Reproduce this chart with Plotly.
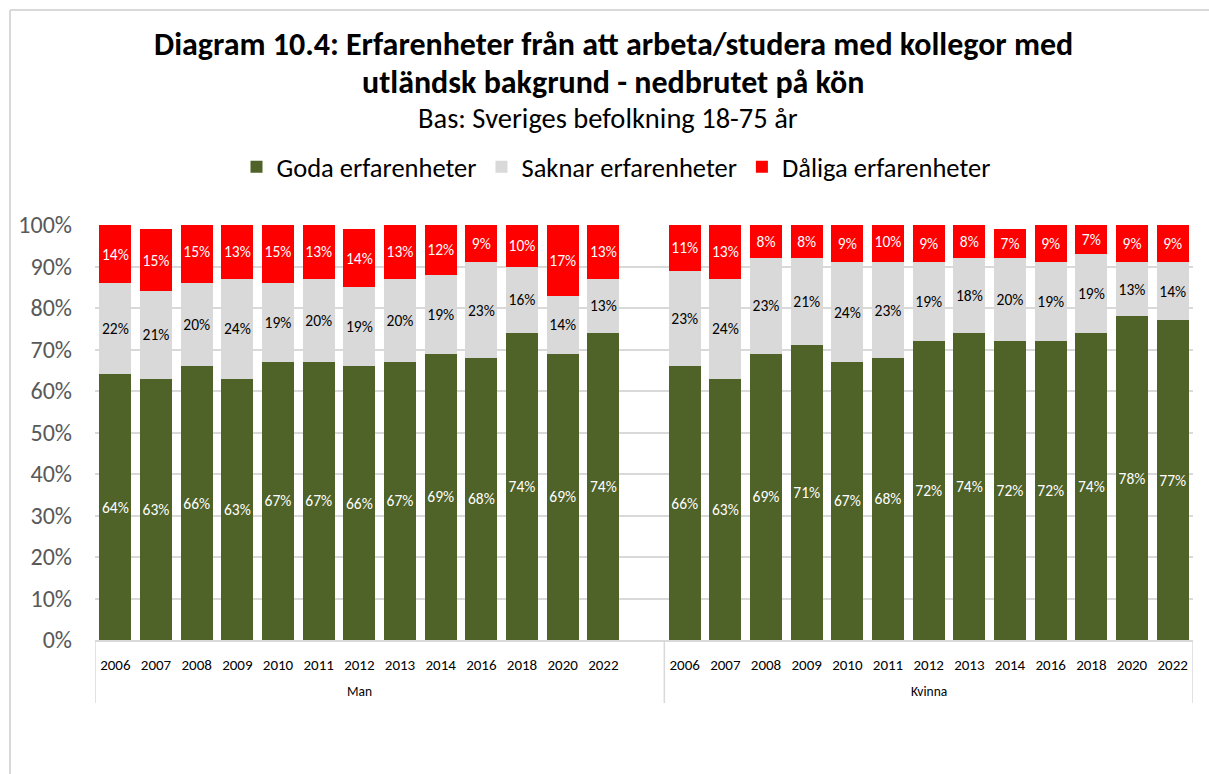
import plotly.graph_objects as go

# Survey years per group
years = ["2006", "2007", "2008", "2009", "2010", "2011", "2012",
         "2013", "2014", "2016", "2018", "2020", "2022"]
groups = ["Man", "Kvinna"]

# Shares in percent, per group
man_goda = [64, 63, 66, 63, 67, 67, 66, 67, 69, 68, 74, 69, 74]
man_saknar = [22, 21, 20, 24, 19, 20, 19, 20, 19, 23, 16, 14, 13]
man_daliga = [14, 15, 15, 13, 15, 13, 14, 13, 12, 9, 10, 17, 13]

kvinna_goda = [66, 63, 69, 71, 67, 68, 72, 74, 72, 72, 74, 78, 77]
kvinna_saknar = [23, 24, 23, 21, 24, 23, 19, 18, 20, 19, 19, 13, 14]
kvinna_daliga = [11, 13, 8, 8, 9, 10, 9, 8, 7, 9, 7, 9, 9]

series_names = ["Goda erfarenheter", "Saknar erfarenheter", "Dåliga erfarenheter"]
colors = ["#4F6228", "#D9D9D9", "#FF0000"]
text_colors = ["white", "black", "white"]

FONT = "Carlito, 'Liberation Sans Narrow', 'Open Sans', sans-serif"

n = len(years)
# Man occupies slots 0..12, one empty slot, Kvinna occupies 14..26
x_man = list(range(n))
x_kv = [n + 1 + i for i in range(n)]
x_all = x_man + x_kv

data = [man_goda + kvinna_goda,
        man_saknar + kvinna_saknar,
        man_daliga + kvinna_daliga]

fig = go.Figure()
for name, vals, col, tcol in zip(series_names, data, colors, text_colors):
    fig.add_trace(go.Bar(
        x=x_all, y=vals, name=name,
        width=0.79,
        marker=dict(color=col, line=dict(width=0)),
        text=[f"{v}%" for v in vals],
        textposition="inside",
        insidetextanchor="middle",
        textangle=0,
        textfont=dict(family=FONT, size=15.5, color=tcol),
        hoverinfo="skip",
    ))

L, R, T, B = 95, 16, 225, 134
W, H = 1209, 774
pw, ph = W - L - R, H - T - B

def px_x(px):
    return (px - L) / pw

def px_y(py):
    return (H - B - py) / ph

shapes = []
# group separators below the axis
for xv in [-0.5, n + 0.5, 2 * n + 0.5]:
    shapes.append(dict(type="line", xref="x", yref="paper",
                       x0=xv, x1=xv, y0=0, y1=px_y(703),
                       line=dict(color="#D9D9D9", width=1.5)))
# chart frame edges
shapes.append(dict(type="line", xref="paper", yref="paper",
                   x0=px_x(10), x1=px_x(1215), y0=px_y(10), y1=px_y(10),
                   line=dict(color="#D9D9D9", width=2)))
shapes.append(dict(type="line", xref="paper", yref="paper",
                   x0=px_x(10), x1=px_x(10), y0=px_y(10), y1=px_y(780),
                   line=dict(color="#D9D9D9", width=2)))

annotations = [
    dict(text="<b>Diagram 10.4: Erfarenheter från att arbeta/studera med kollegor med</b>",
         xref="paper", yref="paper", x=px_x(613), y=px_y(44),
         showarrow=False, font=dict(family=FONT, size=32, color="black"),
         xanchor="center", yanchor="middle"),
    dict(text="<b>utländsk bakgrund - nedbrutet på kön</b>",
         xref="paper", yref="paper", x=px_x(613), y=px_y(82),
         showarrow=False, font=dict(family=FONT, size=32, color="black"),
         xanchor="center", yanchor="middle"),
    dict(text="Bas: Sveriges befolkning 18-75 år",
         xref="paper", yref="paper", x=px_x(608), y=px_y(118),
         showarrow=False, font=dict(family=FONT, size=28.5, color="black"),
         xanchor="center", yanchor="middle"),
]
for g, xc in zip(groups, [(n - 1) / 2, n + 1 + (n - 1) / 2]):
    annotations.append(dict(text=g, xref="x", yref="paper", x=xc, y=px_y(691),
                            showarrow=False, xanchor="center", yanchor="middle",
                            font=dict(family=FONT, size=13.5, color="black")))

fig.update_layout(
    width=W, height=H,
    barmode="stack",
    paper_bgcolor="white", plot_bgcolor="white",
    margin=dict(l=L, r=R, t=T, b=B, pad=0),
    font=dict(family=FONT),
    uniformtext=dict(minsize=15.5, mode="show"),
    legend=dict(orientation="h", x=px_x(616), y=px_y(167),
                xanchor="center", yanchor="middle",
                font=dict(family=FONT, size=26.5, color="black"),
                traceorder="normal", itemwidth=30),
    shapes=shapes,
    annotations=annotations,
    xaxis=dict(range=[-0.5, 2 * n + 0.5],
               tickvals=x_all, ticktext=years + years,
               tickfont=dict(family=FONT, size=15, color="black"),
               showgrid=False, zeroline=False,
               showline=True, linecolor="#D9D9D9", linewidth=1.5,
               ticks="", ticklabelstandoff=10, fixedrange=True),
    yaxis=dict(range=[0, 100], dtick=10, ticksuffix="%",
               tickfont=dict(family=FONT, size=24, color="#595959"),
               showgrid=True, gridcolor="#D9D9D9", gridwidth=1.5,
               zeroline=False, showline=False, ticks="",
               ticklabelstandoff=22, fixedrange=True),
)

fig.write_html("out.html")
